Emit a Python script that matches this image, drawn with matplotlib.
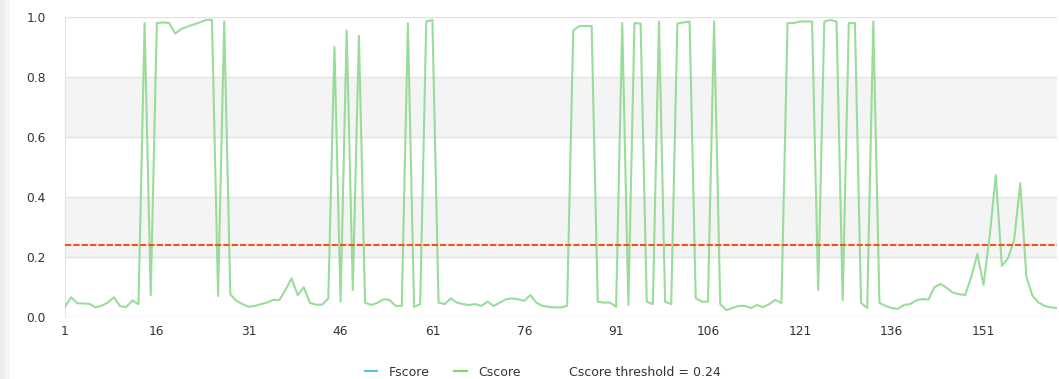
import matplotlib
matplotlib.use("Agg")
import matplotlib.pyplot as plt
from matplotlib.lines import Line2D
from matplotlib.patches import Rectangle

cscore = [
    0.034, 0.066, 0.046, 0.045, 0.044, 0.032, 0.038, 0.048, 0.066, 0.036,
    0.033, 0.055, 0.043, 0.980, 0.073, 0.980, 0.982, 0.980, 0.945, 0.960,
    0.968, 0.975, 0.982, 0.990, 0.990, 0.070, 0.985, 0.075, 0.054, 0.043,
    0.034, 0.037, 0.043, 0.048, 0.057, 0.057, 0.090, 0.129, 0.073, 0.099,
    0.047, 0.041, 0.041, 0.062, 0.900, 0.051, 0.955, 0.090, 0.937, 0.048,
    0.040, 0.047, 0.059, 0.057, 0.037, 0.037, 0.979, 0.034, 0.043, 0.985,
    0.990, 0.048, 0.043, 0.062, 0.048, 0.043, 0.040, 0.043, 0.037, 0.051,
    0.037, 0.048, 0.059, 0.062, 0.059, 0.054, 0.073, 0.047, 0.037, 0.034,
    0.032, 0.032, 0.037, 0.955, 0.970, 0.970, 0.970, 0.051, 0.048, 0.048,
    0.034, 0.980, 0.040, 0.980, 0.978, 0.051, 0.043, 0.985, 0.051, 0.043,
    0.978, 0.982, 0.985, 0.063, 0.051, 0.051, 0.985, 0.043, 0.023, 0.030,
    0.037, 0.037, 0.030, 0.040, 0.033, 0.043, 0.057, 0.047, 0.980, 0.980,
    0.985, 0.985, 0.985, 0.090, 0.985, 0.990, 0.985, 0.057, 0.980, 0.980,
    0.047, 0.030, 0.985, 0.047, 0.037, 0.030, 0.027, 0.040, 0.043, 0.055,
    0.060, 0.058, 0.100, 0.110, 0.097, 0.081, 0.076, 0.073, 0.134, 0.210,
    0.107, 0.268, 0.473, 0.170, 0.196, 0.257, 0.446, 0.134, 0.070, 0.048,
    0.037, 0.032, 0.030,
]
x_index = list(range(1, len(cscore) + 1))
threshold = 0.24
xtick_values = [1, 16, 31, 46, 61, 76, 91, 106, 121, 136, 151]
ytick_values = [0.0, 0.2, 0.4, 0.6, 0.8, 1.0]
legend_labels = ["Fscore", "Cscore", "Cscore threshold = 0.24"]

plt.rcParams['font.family'] = ['DejaVu Sans']

W, H = 1059, 379
fig = plt.figure(figsize=(W / 100, H / 100), dpi=100)
fig.patches.append(Rectangle((0, 0), 5 / W, 1, transform=fig.transFigure,
                             facecolor='#ececec', edgecolor='none', zorder=0))
fig.patches.append(Rectangle((5 / W, 0), 5 / W, 1, transform=fig.transFigure,
                             facecolor='#f6f6f6', edgecolor='none', zorder=0))

ax = fig.add_axes([65 / W, 1 - 317 / H, (1057 - 65) / W, 300 / H])
ax.set_xlim(1, 163)
ax.set_ylim(0, 1)

for lo, hi in [(0.2, 0.4), (0.6, 0.8)]:
    ax.axhspan(lo, hi, color='#f4f4f4', zorder=0, lw=0)
for yv in ytick_values:
    ax.axhline(yv, color='#e3e3e3', lw=1.0, zorder=1)

ax.plot(x_index, cscore, color='#8fd98f', lw=1.5, alpha=0.9, zorder=3)
ax.plot(x_index, [threshold] * len(x_index), color='#f4511e', lw=1.5,
        linestyle=(0, (3, 1)), zorder=4)

for s in ['top', 'right', 'bottom']:
    ax.spines[s].set_visible(False)
ax.spines['left'].set_color('#e3e3e3')

ax.set_xticks(xtick_values)
ax.set_xticklabels([str(v) for v in xtick_values])
ax.set_yticks(ytick_values)
ax.set_yticklabels([f"{v:.1f}" for v in ytick_values])
ax.tick_params(axis='both', length=0, labelsize=8.8, colors='#333333')
ax.tick_params(axis='x', pad=6)
ax.tick_params(axis='y', pad=14)

handles = [
    Line2D([], [], color='#4fc3f7', lw=1.5),
    Line2D([], [], color='#7ed957', lw=1.5),
    Line2D([], [], color='none', lw=0),
]
fig.legend(handles, legend_labels, loc='center', ncol=3,
           bbox_to_anchor=(543 / W, 1 - 372 / H), frameon=False,
           fontsize=9, handlelength=1.0, handletextpad=0.9,
           columnspacing=2.0, labelcolor='#333333')

fig.savefig("out.png", dpi=100, facecolor='white')
